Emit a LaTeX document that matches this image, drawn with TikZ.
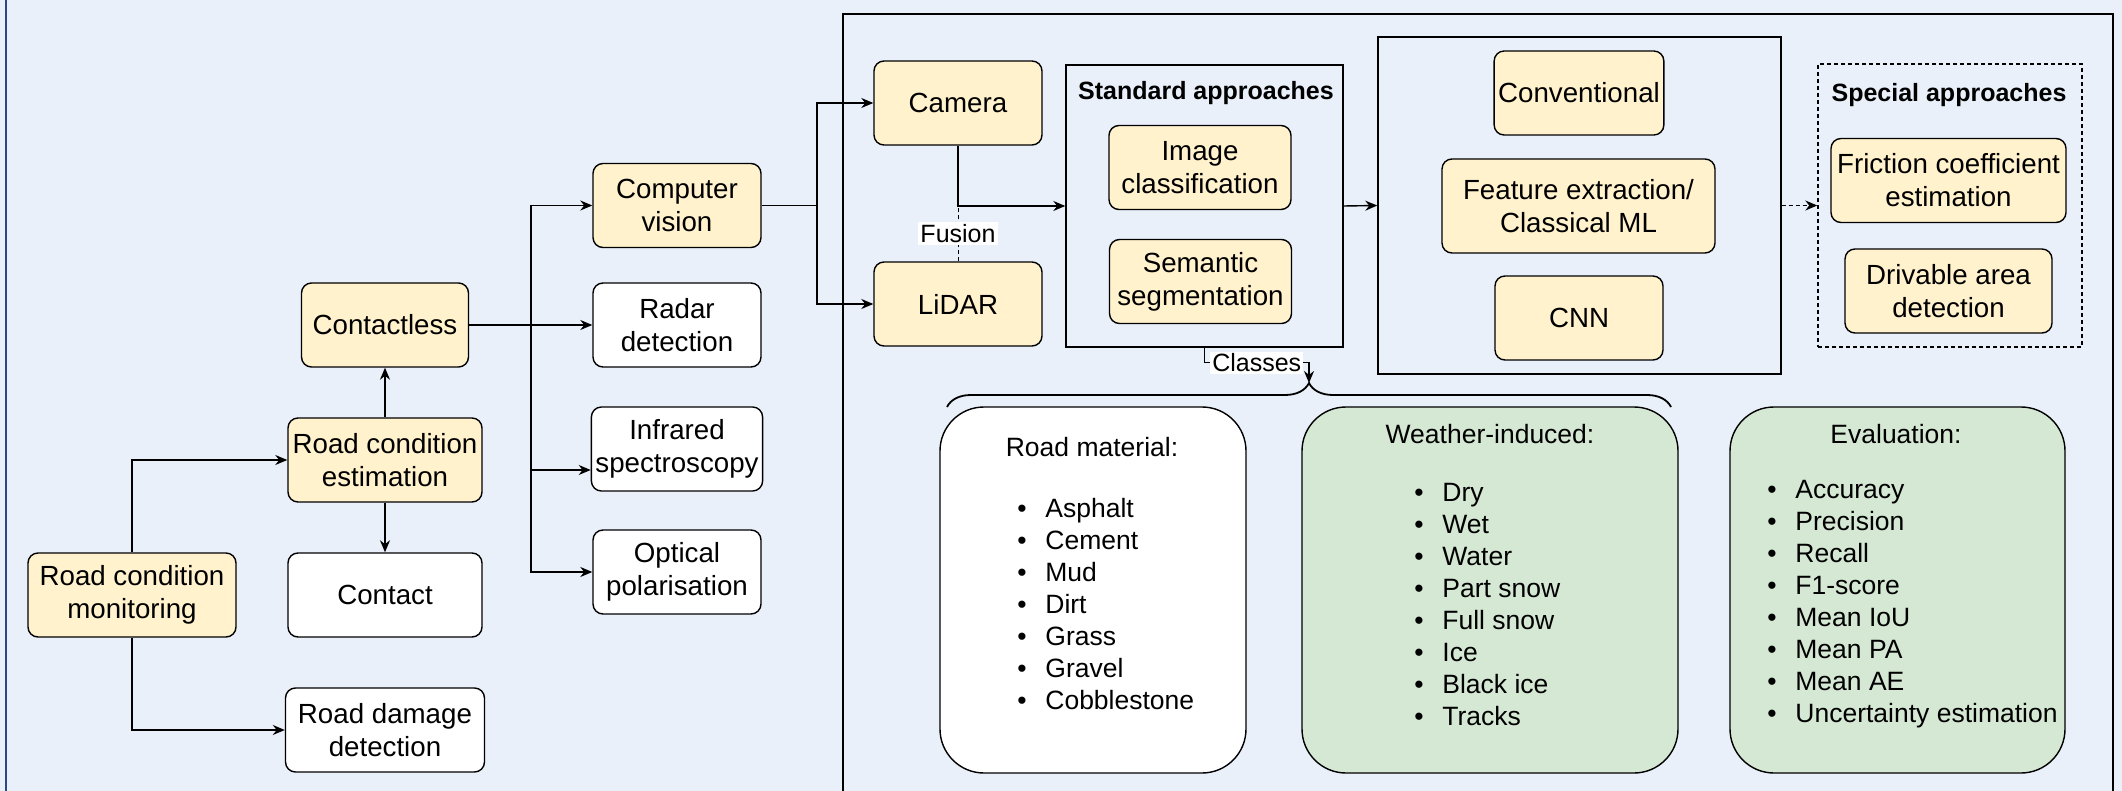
\documentclass[tikz,border=0pt]{standalone}
\usepackage{fontspec}
\setmainfont{Liberation Sans}
\usetikzlibrary{arrows.meta,decorations.pathreplacing}

\definecolor{fondo}{RGB}{233,240,250}
\definecolor{borde}{RGB}{40,75,130}
\definecolor{amarillo}{HTML}{FFF2CC}
\definecolor{verde}{HTML}{D5E8D4}

\newcommand{\boxfont}{\fontsize{13.85pt}{16.6pt}\selectfont}
\newcommand{\listfont}{\fontsize{13.25pt}{16pt}\selectfont}
\newcommand{\labfont}{\fontsize{12.5pt}{15pt}\selectfont}
\newcommand{\itm}[1]{\makebox[14pt][l]{\textbullet}#1}

\tikzset{
  blk/.style={draw=black, line width=0.7pt, rounded corners=5pt, fill=amarillo, align=center,
    minimum height=42pt, inner sep=2pt, font=\boxfont},
  wblk/.style={blk, fill=white},
  grupo/.style={draw=black, line width=0.7pt, inner sep=0pt},
  cls/.style={draw=black, line width=0.7pt, rounded corners=22pt, inner sep=0pt, minimum height=183pt},
  conn/.style={line width=0.7pt, -{Stealth[length=6pt,width=5pt]}},
  lab/.style={fill=white, inner sep=1pt, font=\labfont},
  lista/.style={font=\listfont, align=left, anchor=west, inner sep=0pt},
}

\begin{document}
\begin{tikzpicture}[x=0.5pt, y=-0.5pt]
  % Fondo
  \fill[fondo] (0,0) rectangle (2122,791);
  \useasboundingbox (0,0) rectangle (2122,791);
  \draw[borde, line width=1.2pt] (6,0) -- (6,791);
  % Marco de la derecha
  \draw[line width=0.9pt] (843,791) -- (843,14) -- (2113,14) -- (2113,791);

  % Bloques de la izquierda
  \node[blk, minimum width=104pt] (rcm) at (132,595) {Road condition\\monitoring};
  \node[blk, minimum width=97pt] (rce) at (385,460) {Road condition\\estimation};
  \node[wblk, minimum width=97pt] (contact) at (385,595) {Contact};
  \node[wblk, minimum width=99.5pt] (damage) at (385,730) {Road damage\\detection};
  \node[blk, minimum width=83.5pt] (contactless) at (385,325) {Contactless};
  \node[blk, minimum width=84pt] (compvis) at (677,205.5) {Computer\\vision};
  \node[wblk, minimum width=84pt] (radar) at (677,325) {Radar\\detection};
  \node[wblk, minimum width=84pt] (infrared) at (677,449) {Infrared\\spectroscopy};
  \node[wblk, minimum width=84pt] (optical) at (677,572) {Optical\\polarisation};

  % Sensores
  \node[blk, minimum width=84pt] (camera) at (958,103) {Camera};
  \node[blk, minimum width=84pt] (lidar) at (958,304) {LiDAR};

  % Grupos de enfoques
  \node[grupo, minimum width=138.5pt, minimum height=141pt] (std) at (1204.5,206) {};
  \node[font=\labfont\bfseries] (tstd) at (1206,93) {Standard approaches};
  \node[blk, minimum width=91pt] (imgcls) at (1200,167.5) {Image\\classification};
  \node[blk, minimum width=91pt] (semseg) at (1200.5,281.5) {Semantic\\segmentation};

  \node[grupo, minimum width=201.5pt, minimum height=168.5pt] (methods) at (1579.5,205.5) {};
  \node[blk, minimum width=84pt] (conv) at (1579,93) {Conventional};
  \node[blk, minimum width=136.5pt, minimum height=47pt] (feat) at (1578.5,206) {Feature extraction/\\Classical ML};
  \node[blk, minimum width=84pt] (cnn) at (1579,318) {CNN};

  \node[grupo, dash pattern=on 2pt off 1.5pt, minimum width=132pt, minimum height=141.5pt] (special) at (1950,205.5) {};
  \node[font=\labfont\bfseries] (tspc) at (1949,95) {Special approaches};
  \node[blk, minimum width=117.5pt] (friction) at (1948.5,180.5) {Friction coefficient\\estimation};
  \node[blk, minimum width=103.5pt] (drivable) at (1948.5,291) {Drivable area\\detection};

  % Clases
  \node[cls, fill=white, minimum width=153pt] (roadmat) at (1093,590) {};
  \node[cls, fill=verde, minimum width=188pt] (weather) at (1490,590) {};
  \node[cls, fill=verde, minimum width=167.5pt] (evalbox) at (1897.5,590) {};
  \node[font=\listfont] (tmat) at (1092,447) {Road material:};
  \node[font=\listfont] (twea) at (1490,434) {Weather-induced:};
  \node[font=\listfont] (teva) at (1896,434) {Evaluation:};
  \node[lista] (lmat) at (1017,604) {\itm{Asphalt}\\\itm{Cement}\\\itm{Mud}\\\itm{Dirt}\\\itm{Grass}\\\itm{Gravel}\\\itm{Cobblestone}};
  \node[lista] (lwea) at (1414,604.5) {\itm{Dry}\\\itm{Wet}\\\itm{Water}\\\itm{Part snow}\\\itm{Full snow}\\\itm{Ice}\\\itm{Black ice}\\\itm{Tracks}};
  \node[lista] (leva) at (1767,604) {\itm{Accuracy}\\\itm{Precision}\\\itm{Recall}\\\itm{F1-score}\\\itm{Mean IoU}\\\itm{Mean PA}\\\itm{Mean AE}\\\itm{Uncertainty estimation}};

  % Llave
  \draw[line width=0.9pt, decorate, decoration={brace, amplitude=12pt}] (947,407) -- (1671,407);
  \coordinate (bracetip) at (1309,383);

  % Conectores
  \draw[conn] (rcm.north) |- (rce.west);
  \draw[conn] (rcm.south) |- (damage.west);
  \draw[conn] (rce.north) -- (contactless.south);
  \draw[conn] (rce.south) -- (contact.north);
  \draw[conn] (contactless.east) -- (radar.west);
  \coordinate (splitA) at (531,325);
  \draw[conn] (splitA) |- (compvis.west);
  \draw[conn] (splitA) |- ([yshift=-10.5pt]infrared.west);
  \draw[conn] (splitA) |- (optical.west);
  \coordinate (splitB) at (817,205.5);
  \draw[line width=0.7pt] (compvis.east) -- (splitB);
  \draw[conn] (splitB) |- (camera.west);
  \draw[conn] (splitB) |- (lidar.west);
  \draw[conn] (camera.south) |- (std.west);
  \draw[line width=0.5pt, dash pattern=on 2pt off 1.5pt] (lidar.north) -- (camera.south |- std.west)
    node[midway, lab] {Fusion};
  \draw[conn] (std.east) -- (methods.west);
  \draw[conn, dash pattern=on 2pt off 1.5pt] (methods.east) -- (special.west);
  \draw[conn] (std.south) -- ++(0,15) -| (bracetip) node[pos=0.25, lab] {Classes};
\end{tikzpicture}
\end{document}
